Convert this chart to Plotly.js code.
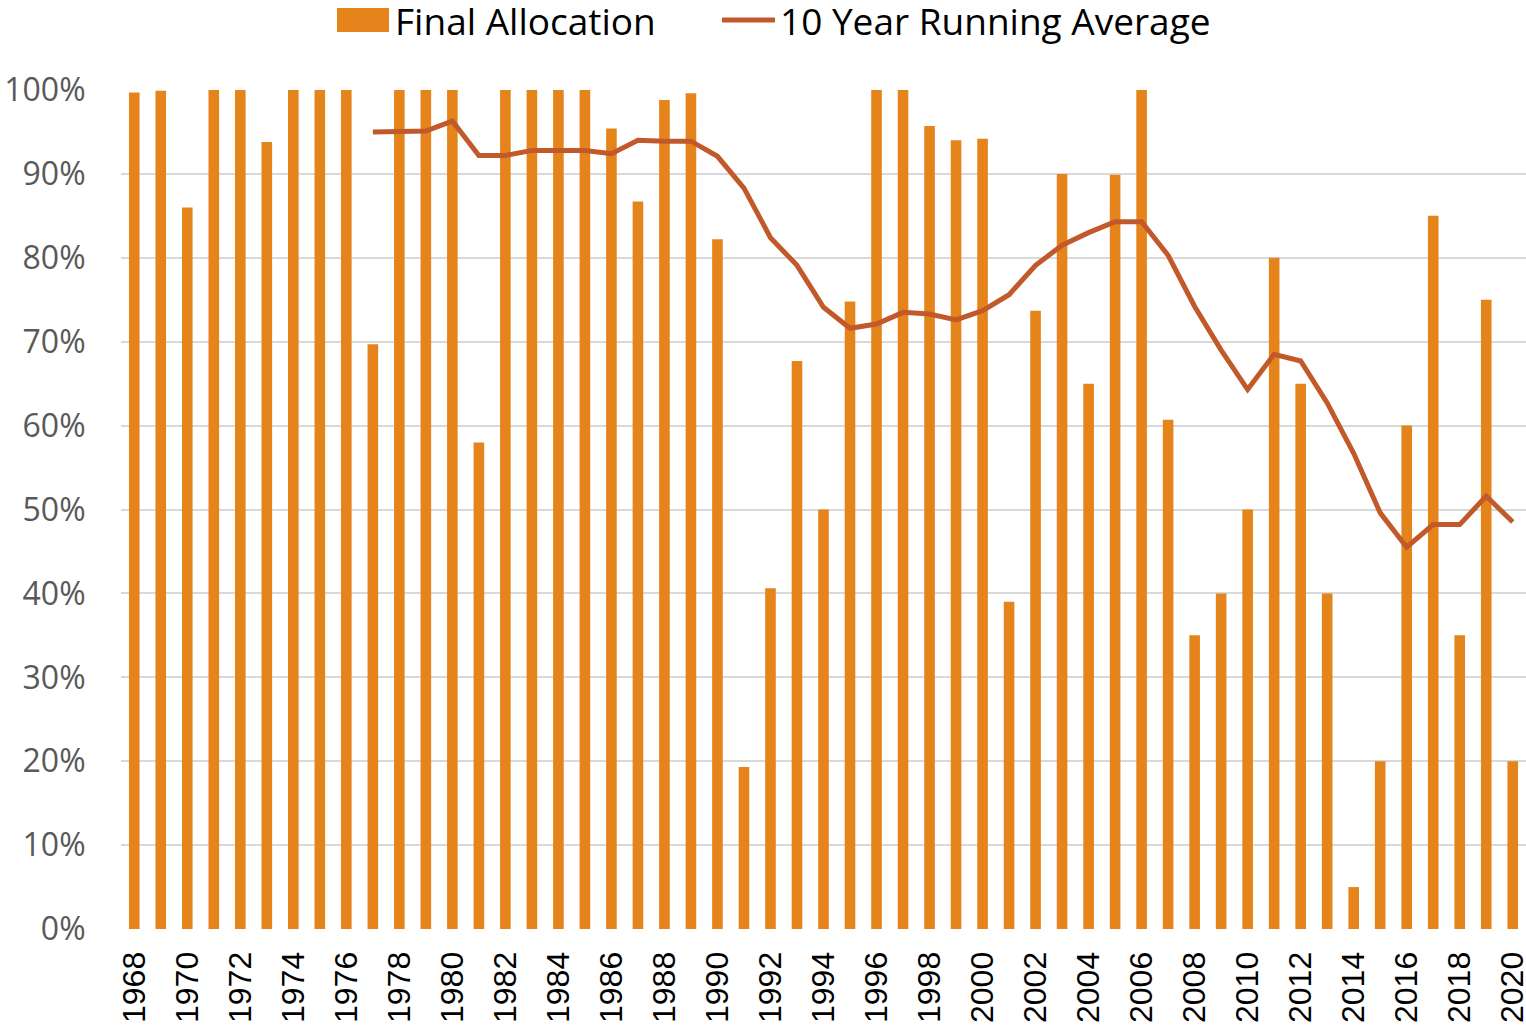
<!DOCTYPE html>
<html>
<head>
<meta charset="utf-8">
<script src="https://cdn.plot.ly/plotly-3.0.1.min.js"></script>
<style>
  html, body { margin: 0; padding: 0; background: #ffffff; }
  #chart { width: 1526px; height: 1030px; }
</style>
</head>
<body>
<div id="chart"></div>
<script>
const years = [1968,1969,1970,1971,1972,1973,1974,1975,1976,1977,1978,1979,1980,1981,1982,1983,1984,1985,1986,1987,1988,1989,1990,1991,1992,1993,1994,1995,1996,1997,1998,1999,2000,2001,2002,2003,2004,2005,2006,2007,2008,2009,2010,2011,2012,2013,2014,2015,2016,2017,2018,2019,2020];

const finalAllocation = [0.997,0.999,0.86,1.0,1.0,0.938,1.0,1.0,1.0,0.697,1.0,1.0,1.0,0.58,1.0,1.0,1.0,1.0,0.954,0.867,0.988,0.996,0.822,0.193,0.406,0.677,0.50,0.748,1.0,1.0,0.957,0.940,0.942,0.390,0.737,0.90,0.65,0.899,1.0,0.607,0.35,0.40,0.50,0.80,0.65,0.40,0.05,0.20,0.60,0.85,0.35,0.75,0.20];

const runningAverage = [null,null,null,null,null,null,null,null,null,0.950,0.950,0.951,0.963,0.922,0.922,0.928,0.928,0.928,0.924,0.940,0.939,0.939,0.921,0.883,0.824,0.791,0.741,0.716,0.721,0.735,0.733,0.726,0.737,0.756,0.791,0.815,0.830,0.843,0.843,0.803,0.742,0.690,0.643,0.685,0.677,0.627,0.567,0.496,0.455,0.482,0.482,0.516,0.485];

const yTicks = [0,0.1,0.2,0.3,0.4,0.5,0.6,0.7,0.8,0.9,1.0];
const yTickLabels = ['0%','10%','20%','30%','40%','50%','60%','70%','80%','90%','100%'];

const seriesNames = ['Final Allocation', '10 Year Running Average'];
const barColor = '#E5841A';
const lineColor = '#C2592B';

// plot-area geometry (pixels) used to place the legend in paper coordinates
const W = 1526, H = 1030;
const M = { l: 121, r: 0, t: 90, b: 101 };
const plotW = W - M.l - M.r, plotH = H - M.t - M.b;
const px = v => (v - M.l) / plotW;
const py = v => (H - M.b - v) / plotH;

const traces = [
  {
    type: 'bar',
    name: seriesNames[0],
    x: years,
    y: finalAllocation,
    marker: { color: barColor, line: { width: 0 } },
    showlegend: false
  },
  {
    type: 'scatter',
    mode: 'lines',
    name: seriesNames[1],
    x: years,
    y: runningAverage,
    line: { color: lineColor, width: 5 },
    connectgaps: false,
    showlegend: false
  }
];

const legendFont = { family: 'Open Sans, sans-serif', size: 37, color: '#000000' };

const layout = {
  width: W,
  height: H,
  margin: { l: M.l, r: M.r, t: M.t, b: M.b, pad: 0 },
  paper_bgcolor: '#ffffff',
  plot_bgcolor: '#ffffff',
  bargap: 0.6,
  showlegend: false,
  xaxis: {
    type: 'linear',
    range: [1967.5, 2020.5],
    tickmode: 'array',
    tickvals: years.filter(y => y % 2 === 0),
    ticktext: years.filter(y => y % 2 === 0).map(String),
    tickangle: -90,
    tickfont: { family: 'Liberation Sans, Arial, sans-serif', size: 32, color: '#000000' },
    ticklabeloverflow: 'allow',
    ticks: 'outside',
    ticklen: 9,
    tickcolor: 'rgba(0,0,0,0)',
    showgrid: false,
    zeroline: false,
    showline: false,
    fixedrange: true
  },
  yaxis: {
    range: [0, 1.0],
    tickmode: 'array',
    tickvals: yTicks,
    ticktext: yTickLabels,
    tickfont: { family: 'Open Sans, sans-serif', size: 32, color: '#595959' },
    ticks: 'outside',
    ticklen: 28,
    tickcolor: 'rgba(0,0,0,0)',
    showgrid: true,
    gridcolor: '#D9D9D9',
    gridwidth: 2,
    zeroline: false,
    showline: false,
    fixedrange: true
  },
  shapes: [
    { type: 'rect', xref: 'paper', yref: 'paper', x0: px(337), x1: px(389), y0: py(32), y1: py(8),
      fillcolor: barColor, line: { width: 0 } },
    { type: 'line', xref: 'paper', yref: 'paper', x0: px(722), x1: px(775), y0: py(20), y1: py(20),
      line: { color: lineColor, width: 5 } }
  ],
  annotations: [
    { xref: 'paper', yref: 'paper', x: px(395), y: py(21), xanchor: 'left', yanchor: 'middle',
      text: seriesNames[0], showarrow: false, font: legendFont, borderpad: 0, borderwidth: 0 },
    { xref: 'paper', yref: 'paper', x: px(780), y: py(21), xanchor: 'left', yanchor: 'middle',
      text: seriesNames[1], showarrow: false, font: legendFont, borderpad: 0, borderwidth: 0 }
  ]
};

Plotly.newPlot('chart', traces, layout, { displayModeBar: false, staticPlot: true });
</script>
</body>
</html>
